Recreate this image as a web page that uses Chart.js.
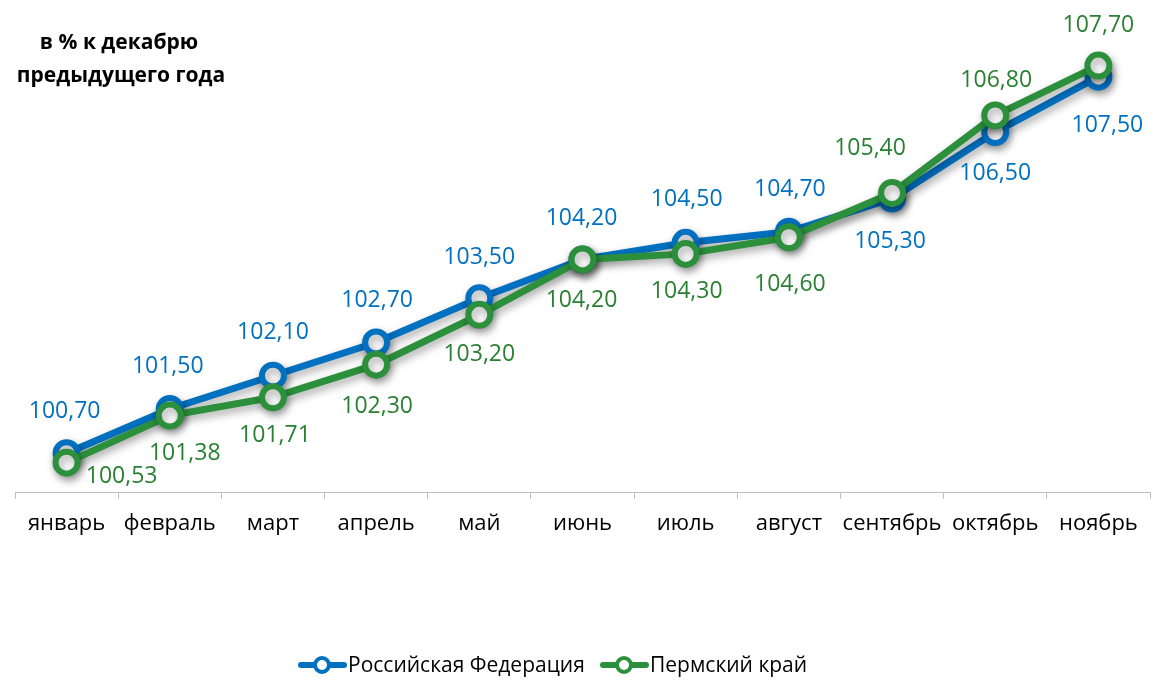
<!DOCTYPE html>
<html>
<head>
<meta charset="utf-8">
<script src="https://cdn.jsdelivr.net/npm/chart.js@4/dist/chart.umd.min.js"></script>
<style>
  html, body { margin: 0; padding: 0; background: #fff; }
  #wrap { width: 1153px; height: 680px; }
</style>
</head>
<body>
<div id="wrap"><canvas id="chart" width="1153" height="680"></canvas></div>
<script>
const months = ['январь', 'февраль', 'март', 'апрель', 'май', 'июнь', 'июль', 'август', 'сентябрь', 'октябрь', 'ноябрь'];
const russia = [100.70, 101.50, 102.10, 102.70, 103.50, 104.20, 104.50, 104.70, 105.30, 106.50, 107.50];
const perm = [100.53, 101.38, 101.71, 102.30, 103.20, 104.20, 104.30, 104.60, 105.40, 106.80, 107.70];
const seriesNames = ['Российская Федерация', 'Пермский край'];
const titleLines = ['в % к декабрю', 'предыдущего года'];

const BLUE = '#0070c0';
const GREEN = '#2b8f3b';
const FONT = '"Open Sans", "Noto Sans", sans-serif';

// label offsets (px) relative to each point
const labelOffsets = [
  [[-2, -42], [-2, -42], [0, -43], [1, -42], [0, -41], [-1, -41], [1, -43], [1, -42], [-2, 43], [0, 41], [9, 49]],
  [[55, 14], [15, 38], [2, 38], [1, 42], [0, 40], [-1, 41], [1, 38], [1, 47], [-22, -45], [1, -35], [0, -40]]
];

const fmt = v => v.toFixed(2).replace('.', ',');

const labelsPlugin = {
  id: 'valueLabels',
  afterDatasetsDraw(chart) {
    const ctx = chart.ctx;
    ctx.save();
    ctx.font = '23px ' + FONT;
    ctx.textAlign = 'center';
    ctx.textBaseline = 'middle';
    chart.data.datasets.forEach((ds, di) => {
      const meta = chart.getDatasetMeta(di);
      ctx.fillStyle = di === 0 ? BLUE : '#2a8032';
      meta.data.forEach((pt, i) => {
        const [dx, dy] = labelOffsets[di][i];
        ctx.fillText(fmt(ds.data[i]), pt.x + dx, pt.y + dy);
      });
    });
    ctx.restore();
  }
};

const shadowPlugin = {
  id: 'shadow',
  beforeDatasetDraw(chart) {
    const ctx = chart.ctx;
    ctx.save();
    ctx.shadowColor = 'rgba(0,0,0,0.35)';
    ctx.shadowBlur = 8;
    ctx.shadowOffsetX = 2;
    ctx.shadowOffsetY = 4;
  },
  afterDatasetDraw(chart) {
    chart.ctx.restore();
  }
};

const decorPlugin = {
  id: 'decor',
  afterDraw(chart) {
    const ctx = chart.ctx;
    ctx.save();
    // title
    ctx.fillStyle = '#000';
    ctx.font = 'bold 21px ' + FONT;
    ctx.textAlign = 'center';
    ctx.textBaseline = 'middle';
    ctx.fillText(titleLines[0], 119, 43);
    ctx.fillText(titleLines[1], 121, 76);
    // legend
    const items = [
      { x: 298, color: BLUE, text: seriesNames[0] },
      { x: 600, color: GREEN, text: seriesNames[1] }
    ];
    const y = 665;
    items.forEach(it => {
      ctx.strokeStyle = it.color;
      ctx.lineWidth = 6;
      ctx.lineCap = 'round';
      ctx.beginPath();
      ctx.moveTo(it.x + 3, y);
      ctx.lineTo(it.x + 46, y);
      ctx.stroke();
      ctx.beginPath();
      ctx.arc(it.x + 24, y, 7, 0, Math.PI * 2);
      ctx.fillStyle = '#fff';
      ctx.fill();
      ctx.lineWidth = 4;
      ctx.stroke();
      ctx.fillStyle = '#000';
      ctx.font = '21px ' + FONT;
      ctx.textAlign = 'left';
      ctx.fillText(it.text, it.x + 50, y + 1);
    });
    ctx.restore();
  }
};

const makeSet = (label, data, color, order) => ({
  label,
  data,
  order,
  borderColor: color,
  backgroundColor: color,
  borderWidth: 7,
  pointRadius: 11,
  pointBorderWidth: 6,
  pointBackgroundColor: '#fff',
  pointBorderColor: color,
  pointHoverRadius: 11,
  tension: 0
});

new Chart(document.getElementById('chart'), {
  type: 'line',
  data: {
    labels: months,
    datasets: [
      makeSet(seriesNames[0], russia, BLUE, 1),
      makeSet(seriesNames[1], perm, GREEN, 0)
    ]
  },
  options: {
    responsive: false,
    animation: false,
    layout: { autoPadding: false, padding: { top: 49, left: 15, right: 3, bottom: 0 } },
    plugins: {
      legend: { display: false },
      tooltip: { enabled: false }
    },
    scales: {
      x: {
        offset: true,
        grid: { offset: true, drawOnChartArea: false, tickLength: 7, color: '#bfbfbf' },
        border: { color: '#bfbfbf', width: 1 },
        ticks: { color: '#000', font: { family: FONT, size: 22 }, padding: 12, maxRotation: 0, autoSkip: false },
        afterFit(scale) {
          scale.height = 188;
          scale.paddingLeft = 0;
          scale.paddingRight = 0;
        }
      },
      y: {
        display: false,
        min: 100,
        max: 108
      }
    }
  },
  plugins: [shadowPlugin, labelsPlugin, decorPlugin]
});
</script>
</body>
</html>
